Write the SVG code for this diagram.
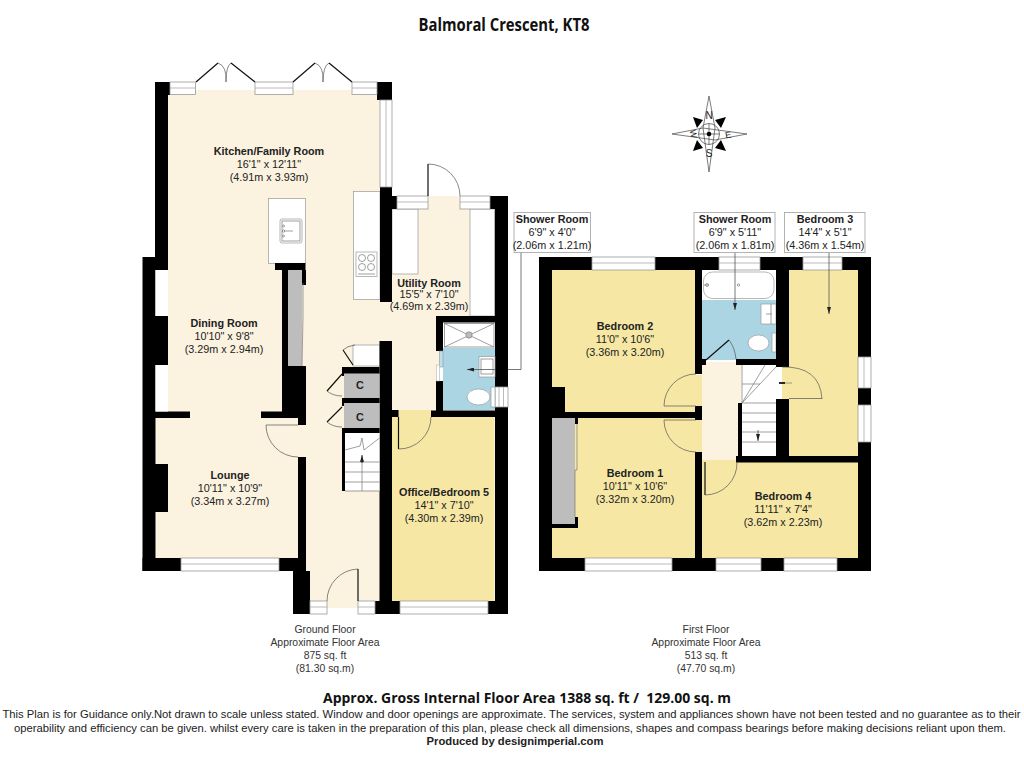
<svg xmlns="http://www.w3.org/2000/svg" width="1024" height="768" viewBox="0 0 1024 768">
<style>
.w{fill:#000}
.win{fill:#fff;stroke:#999;stroke-width:.8}
.ml{fill:none;stroke:#aaa;stroke-width:.8}
.cream{fill:#fbf3e0}
.yel{fill:#f6e8a4}
.blue{fill:#acd5e4}
.grey{fill:#bdbdbd}
.unit{fill:#fff;stroke:#999;stroke-width:.7}
.thin{fill:none;stroke:#777;stroke-width:.7}
.arc{fill:none;stroke:#555;stroke-width:.7}
.door{fill:none;stroke:#111;stroke-width:1.2}
.lead{fill:none;stroke:#555;stroke-width:.8}
.box{fill:#fff;stroke:#aaa;stroke-width:.9}
text{font-family:"Liberation Sans",Arial,sans-serif;fill:#222;text-anchor:middle}
.l{font-size:10.8px}
.b{font-weight:bold;font-size:10.8px}
.s{font-size:10.4px;fill:#333}
.f{font-size:11px;fill:#222}
.h{font-family:"Open Sans","Liberation Sans",sans-serif;font-weight:bold;fill:#111}
</style>
<defs>
<marker id="ah" markerWidth="7" markerHeight="4" refX="7" refY="2" orient="auto" markerUnits="userSpaceOnUse"><path d="M0 0L7 2L0 4Z" fill="#222"/></marker>
</defs>
<rect width="1024" height="768" fill="#fff"/>
<text class="h" x="504" y="31" font-size="18" textLength="171" lengthAdjust="spacingAndGlyphs">Balmoral Crescent, KT8</text>

<g id="ground-floor">
<path class="cream" d="M168 90H380V302H436V322H440V412H431V417H392V602H375V608H310V602H306V457H298V418H156V257H168Z"/>
<path class="cream" d="M156 418H298V558H156Z"/>
<path class="cream" d="M392 196H494V316H392Z"/>
<path class="cream" d="M327 600H358V606H327Z"/>
<rect class="yel" x="392" y="417" width="102.500" height="184"/>
<rect class="yel" x="398" y="410" width="33" height="8"/>
<!-- units -->
<rect class="unit" x="353.500" y="191.500" width="26.500" height="108"/>
<rect class="unit" x="268.500" y="198.500" width="37" height="65"/>
<rect x="392" y="209" width="26" height="65" class="unit"/>
<rect x="470" y="209" width="24.500" height="107" class="unit"/>
<rect class="unit" x="353" y="345" width="27" height="21"/>
<rect x="443" y="322" width="52" height="26" fill="#fff"/>
<rect x="444.500" y="323.500" width="49.500" height="23.500" class="thin"/>
<path class="thin" d="M444.500 323.500L494 347M494 323.500L444.500 347"/>
<circle cx="469" cy="335" r="3.200" fill="#bbb" stroke="#777" stroke-width=".6"/>
<rect class="blue" x="443" y="348" width="52" height="62"/>
<!-- walls -->
<rect class="w" x="155" y="82" width="13" height="175"/>
<rect class="w" x="155" y="82" width="15" height="13"/>
<rect class="w" x="142.500" y="257" width="13" height="314"/>
<rect class="w" x="155" y="257" width="13" height="13"/>
<rect class="w" x="155" y="316" width="13" height="49"/>
<rect class="w" x="155" y="464" width="13" height="48"/>
<rect class="w" x="155" y="411.500" width="35" height="6.500"/>
<rect class="w" x="142.500" y="558" width="38.500" height="13"/>
<rect class="w" x="279" y="558" width="27" height="13"/>
<rect class="w" x="298" y="457" width="8" height="157"/>
<rect class="w" x="293" y="571" width="17" height="43"/>
<rect class="w" x="377" y="82" width="15" height="18"/>
<rect class="w" x="380" y="187" width="12" height="115"/>
<rect class="w" x="392" y="196" width="5" height="13"/>
<rect class="w" x="490" y="196" width="18" height="13"/>
<rect class="w" x="495" y="196" width="13" height="418"/>
<rect class="w" x="436" y="316" width="72" height="6.500"/>
<rect class="w" x="436" y="316" width="7" height="35"/>
<rect class="w" x="436" y="381" width="7" height="30"/>
<rect class="w" x="431" y="410.500" width="77" height="6.500"/>
<rect class="w" x="379.500" y="341" width="12.500" height="273"/>
<rect class="w" x="392" y="410" width="6.500" height="7"/>
<rect class="w" x="375" y="601" width="25" height="13"/>
<rect class="w" x="488" y="601" width="20" height="13"/>
<rect class="w" x="275" y="263" width="30.500" height="7"/>
<rect class="w" x="282" y="270" width="6" height="148"/>
<rect class="w" x="301" y="270" width="5" height="15"/>
<rect class="w" x="282" y="366" width="24" height="52"/>
<rect class="w" x="298" y="366" width="8" height="59"/>
<rect class="w" x="261" y="411.500" width="30" height="6.500"/>
<rect class="grey" x="288" y="270" width="14" height="96"/>
<path class="thin" d="M303 283V316L302 366"/>
<rect class="w" x="342" y="367" width="37.500" height="7"/>
<rect class="w" x="342" y="398" width="37.500" height="5"/>
<rect class="w" x="342" y="428" width="37.500" height="5"/>
<rect class="w" x="342" y="374" width="2" height="2"/>
<rect class="w" x="342" y="403" width="2" height="3"/>
<rect class="w" x="342" y="433" width="3" height="58"/>
<rect class="grey" x="344" y="373.500" width="35.500" height="24.500"/>
<rect class="grey" x="344" y="403" width="35.500" height="25"/>
<rect x="345" y="433" width="34.500" height="58" fill="#fff"/>
<path class="thin" d="M345 450L360 446L362 438L364 450L379.500 438M345 462H379.500M345 472H379.500M345 482H379.500M345 491H379.500M362 462V491"/>
<path d="M362 463V455" stroke="#222" stroke-width=".8" marker-end="url(#ah)" fill="none"/>
<!-- windows -->
<rect class="win" x="170" y="82" width="25.500" height="12.500"/>
<rect class="win" x="255" y="82" width="38" height="12.500"/>
<rect class="win" x="352" y="82" width="25" height="12.500"/>
<path class="ml" d="M170 88H195.500M255 88H293M352 88H377"/>
<rect class="win" x="380" y="100" width="12" height="87"/>
<path class="ml" d="M386 100V187"/>
<rect class="win" x="397" y="196" width="31" height="13"/>
<rect class="win" x="460" y="196" width="30" height="13"/>
<path class="ml" d="M397 202H428M460 202H490"/>
<rect x="155.500" y="270" width="12.500" height="46" fill="#fff"/>
<rect x="155.500" y="365" width="12.500" height="46.500" fill="#fff"/>
<rect class="win" x="181" y="558" width="98" height="13"/>
<path class="ml" d="M181 564H279"/>
<rect class="win" x="310" y="601" width="17" height="13"/>
<rect class="win" x="358" y="601" width="17" height="13"/>
<path class="ml" d="M310 607H327M358 607H375"/>
<rect class="win" x="400" y="601" width="88" height="13"/>
<path class="ml" d="M400 607H488"/>
<rect class="win" x="495" y="387" width="13" height="20"/>
<path class="ml" d="M499 387V407M503.500 387V407"/>
<!-- doors -->
<path class="door" d="M196 82L218 63M255 82L231 63M293 82L315 63M352 82L329 63M428 196V164M358 601V569M398.500 417V449M342 374L327 391M342 407L327 422M343 350L353 365"/>
<path class="arc" d="M218 63Q227 66 226 82M231 63Q226 66 226 82M315 63Q324 66 323 82M329 63Q323 66 323 82M428 164A32 32 0 0 1 460 196M358 569A32 32 0 0 0 327 601M398.500 449A32 32 0 0 0 431 417M266 425A32 32 0 0 0 298 457M327 391Q333 396 342 396M327 422Q333 427 342 427M343 350Q347 346 355 345"/>
<path class="arc" d="M266 425H298"/>
<rect x="439.500" y="351" width="3.500" height="16" fill="#bcdfe9" stroke="#888" stroke-width=".5"/>
<rect x="436.500" y="365" width="3" height="16" fill="#fff" stroke="#aaa" stroke-width=".5"/>
<!-- fixtures -->
<rect class="unit" x="280" y="219" width="22" height="24" rx="2"/>
<rect class="thin" x="282" y="221" width="18" height="20"/>
<path class="thin" d="M284 231H293"/>
<circle class="thin" cx="283.500" cy="231" r="1.200"/><circle class="thin" cx="283.500" cy="226" r="1"/><circle class="thin" cx="283.500" cy="236" r="1"/>
<rect class="unit" x="356" y="252" width="21" height="24.500"/>
<circle class="thin" cx="362" cy="258" r="3.500"/><circle class="thin" cx="371" cy="258" r="3.500"/><circle class="thin" cx="362" cy="267" r="3.500"/><circle class="thin" cx="371" cy="267" r="3.500"/>
<path class="thin" d="M358 274H375"/>
<rect class="unit" x="479" y="356.500" width="16" height="20.500"/>
<rect class="thin" x="481" y="359" width="12" height="15"/>
<ellipse class="unit" cx="478.500" cy="397" rx="11.500" ry="8"/>
<rect class="unit" x="491" y="387" width="4" height="20"/>
</g>

<g id="first-floor">
<rect class="yel" x="552" y="270" width="143" height="142"/>
<rect class="yel" x="552" y="418" width="143" height="140"/>
<rect class="yel" x="664" y="375" width="38" height="77"/>
<rect class="yel" x="789" y="270" width="69" height="186"/>
<rect class="yel" x="782" y="367" width="7" height="32"/>
<rect class="yel" x="702" y="462" width="156" height="96"/>
<rect class="yel" x="702" y="456" width="36" height="8"/>
<rect class="cream" x="702" y="362" width="39" height="98"/>
<rect class="blue" x="702" y="300" width="74" height="60"/>
<rect x="741" y="365" width="41" height="38" fill="#fff"/>
<rect x="741" y="399" width="35.500" height="57" fill="#fff"/>
<path class="thin" d="M742 365V403M742 384H760M742 403H776M742 413H776M742 422H776M742 432H776M742 442H776M742 403L765 365M742 403L776 367"/>
<path d="M758 430V441" stroke="#333" stroke-width=".7" marker-end="url(#ah)"/>
<rect x="702" y="270" width="74" height="30" fill="#fff"/>
<rect class="unit" x="703.500" y="272" width="70.500" height="26.500" rx="9"/>
<circle class="thin" cx="738.500" cy="285" r="1.200"/>
<path class="thin" d="M704 285H709"/>
<circle class="thin" cx="707" cy="285" r="1.500"/>
<rect class="unit" x="761" y="304" width="15" height="20"/>
<path class="thin" d="M771 304V324M766 314H772"/>
<ellipse class="unit" cx="758.500" cy="343" rx="10.500" ry="8"/>
<rect class="unit" x="772" y="333" width="4" height="19"/>
<rect class="grey" x="552" y="418" width="23" height="106"/>
<path class="thin" d="M577 424V470H575V517"/>
<!-- walls -->
<rect class="w" x="539" y="257" width="53" height="13"/>
<rect class="w" x="655" y="257" width="64" height="13"/>
<rect class="w" x="760" y="257" width="43" height="13"/>
<rect class="w" x="842" y="257" width="29" height="13"/>
<rect class="w" x="539" y="257" width="13" height="314"/>
<rect class="w" x="552" y="387" width="13" height="25"/>
<rect class="w" x="552" y="412" width="143" height="6"/>
<rect class="w" x="575" y="418" width="3" height="6"/>
<rect class="w" x="552" y="524" width="26" height="4"/>
<rect class="w" x="575" y="517" width="3" height="8"/>
<rect class="w" x="695" y="270" width="7" height="104"/>
<rect class="w" x="695" y="406" width="7" height="14"/>
<rect class="w" x="695" y="452" width="7" height="119"/>
<rect class="w" x="702" y="359" width="4" height="6"/>
<rect class="w" x="736" y="359" width="41" height="6"/>
<rect class="w" x="776" y="257" width="13" height="110"/>
<rect class="w" x="776" y="399" width="13" height="63"/>
<rect class="w" x="738" y="403" width="4" height="57"/>
<rect class="w" x="736" y="456" width="122" height="6.500"/>
<rect class="w" x="858" y="257" width="13" height="100"/>
<rect class="w" x="858" y="388" width="13" height="17"/>
<rect class="w" x="858" y="442" width="13" height="129"/>
<rect class="w" x="539" y="558" width="46" height="13"/>
<rect class="w" x="672" y="558" width="44" height="13"/>
<rect class="w" x="761" y="558" width="23" height="13"/>
<rect class="w" x="837" y="558" width="34" height="13"/>
<!-- windows -->
<rect class="win" x="592" y="257" width="63" height="13"/>
<rect class="win" x="719" y="257" width="41" height="13"/>
<rect class="win" x="803" y="257" width="39" height="13"/>
<path class="ml" d="M592 263H655M719 263H760M803 263H842"/>
<rect class="win" x="858" y="357" width="13" height="31"/>
<rect class="win" x="858" y="405" width="13" height="37"/>
<path class="ml" d="M864 357V388M864 405V442"/>
<rect class="win" x="585" y="558" width="87" height="13"/>
<rect class="win" x="716" y="558" width="45" height="13"/>
<rect class="win" x="784" y="558" width="53" height="13"/>
<path class="ml" d="M585 564H672M716 564H761M784 564H837"/>
<!-- doors -->
<path class="door" d="M706 360L729 340M705 462V495"/>
<path class="arc" d="M664 406H696M664 420H696M789 398.500H822M729 340Q735 348 736 359M664 406A32 32 0 0 1 696 374M664 420A32 32 0 0 0 696 452M705 495A32 32 0 0 0 737 462M782 367Q820 366 822 399"/>
<path d="M779 383H785" stroke="#111" stroke-width="1.800"/>
<path d="M785 383H792" stroke="#777" stroke-width=".7"/>
</g>

<g id="connectors">
<path class="lead" d="M508 369.500H521V252"/>
<path class="lead" d="M495 369.500H467" marker-end="url(#ah)"/>
<path class="lead" d="M735 252V310" marker-end="url(#ah)"/>
<path class="lead" d="M829 252V314" marker-end="url(#ah)"/>
</g>

<g id="room-labels">
<text class="b" x="269" y="155">Kitchen/Family Room</text>
<text class="l" x="269" y="168">16'1" x 12'11"</text>
<text class="l" x="269" y="181">(4.91m x 3.93m)</text>
<text class="b" x="224" y="327">Dining Room</text>
<text class="l" x="224" y="340">10'10" x 9'8"</text>
<text class="l" x="224" y="353">(3.29m x 2.94m)</text>
<text class="b" x="230" y="479">Lounge</text>
<text class="l" x="230" y="492">10'11" x 10'9"</text>
<text class="l" x="230" y="505">(3.34m x 3.27m)</text>
<text class="b" x="429" y="287">Utility Room</text>
<text class="l" x="429" y="298">15'5" x 7'10"</text>
<text class="l" x="429" y="310">(4.69m x 2.39m)</text>
<text class="b" x="444" y="496">Office/Bedroom 5</text>
<text class="l" x="444" y="509">14'1" x 7'10"</text>
<text class="l" x="444" y="522">(4.30m x 2.39m)</text>
<text class="b" x="360" y="389" font-size="11">C</text>
<text class="b" x="360" y="421" font-size="11">C</text>
<text class="b" x="625" y="330">Bedroom 2</text>
<text class="l" x="625" y="343">11'0" x 10'6"</text>
<text class="l" x="625" y="356">(3.36m x 3.20m)</text>
<text class="b" x="635" y="477">Bedroom 1</text>
<text class="l" x="635" y="490">10'11" x 10'6"</text>
<text class="l" x="635" y="503">(3.32m x 3.20m)</text>
<text class="b" x="783" y="500">Bedroom 4</text>
<text class="l" x="783" y="513">11'11" x 7'4"</text>
<text class="l" x="783" y="526">(3.62m x 2.23m)</text>
<rect class="box" x="514" y="212.500" width="76.500" height="40"/>
<text class="b" x="552" y="223">Shower Room</text>
<text class="l" x="552" y="236">6'9" x 4'0"</text>
<text class="l" x="552" y="249">(2.06m x 1.21m)</text>
<rect class="box" x="694" y="212.500" width="81" height="40"/>
<text class="b" x="735" y="223">Shower Room</text>
<text class="l" x="735" y="236">6'9" x 5'11"</text>
<text class="l" x="735" y="249">(2.06m x 1.81m)</text>
<rect class="box" x="784.500" y="212.500" width="80.500" height="40"/>
<text class="b" x="825" y="223">Bedroom 3</text>
<text class="l" x="825" y="236">14'4" x 5'1"</text>
<text class="l" x="825" y="249">(4.36m x 1.54m)</text>
</g>

<g id="compass">
<path d="M709 96L715 128L709 172L703 128Z M672 134L703 128L747 134L715 140Z" fill="#fff" stroke="#444" stroke-width=".7"/>
<path d="M693 117L703 120L697 128Z M726 117L715 120L721 128Z M693 151L703 148L697 140Z M726 151L715 148L721 140Z" fill="#000"/>
<circle cx="709" cy="134" r="10.500" fill="none" stroke="#444" stroke-width=".7"/>
<path d="M709 123.500V144.500M698.500 134H719.500" stroke="#444" stroke-width=".7"/>
<circle cx="709" cy="134" r="2.300" fill="#000"/>
<text x="709" y="119" font-size="10">N</text>
<text x="709" y="156.500" font-size="10">S</text>
<text x="728" y="138" font-size="9" transform="rotate(-10 728 134)">E</text>
<text x="693.500" y="137" font-size="9" transform="rotate(80 693.500 134)">W</text>
</g>

<g id="captions">
<text class="s" x="325" y="633">Ground Floor</text>
<text class="s" x="325" y="646">Approximate Floor Area</text>
<text class="s" x="325" y="659">875 sq. ft</text>
<text class="s" x="325" y="672">(81.30 sq.m)</text>
<text class="s" x="706" y="633">First Floor</text>
<text class="s" x="706" y="646">Approximate Floor Area</text>
<text class="s" x="706" y="659">513 sq. ft</text>
<text class="s" x="706" y="672">(47.70 sq.m)</text>
<text class="h" x="527" y="703" font-size="14.500" textLength="408" lengthAdjust="spacingAndGlyphs" style="white-space:pre">Approx. Gross Internal Floor Area 1388 sq. ft /  129.00 sq. m</text>
<text class="f" x="511.500" y="718" textLength="1018" lengthAdjust="spacingAndGlyphs">This Plan is for Guidance only.Not drawn to scale unless stated. Window and door openings are approximate. The services, system and appliances shown have not been tested and no guarantee as to their</text>
<text class="f" x="510" y="732" textLength="992" lengthAdjust="spacingAndGlyphs">operability and efficiency can be given. whilst every care is taken in the preparation of this plan, please check all dimensions, shapes and compass bearings before making decisions reliant upon them.</text>
<text class="f" x="515" y="745" font-weight="bold" textLength="177" lengthAdjust="spacingAndGlyphs">Produced by designimperial.com</text>
</g>
</svg>
